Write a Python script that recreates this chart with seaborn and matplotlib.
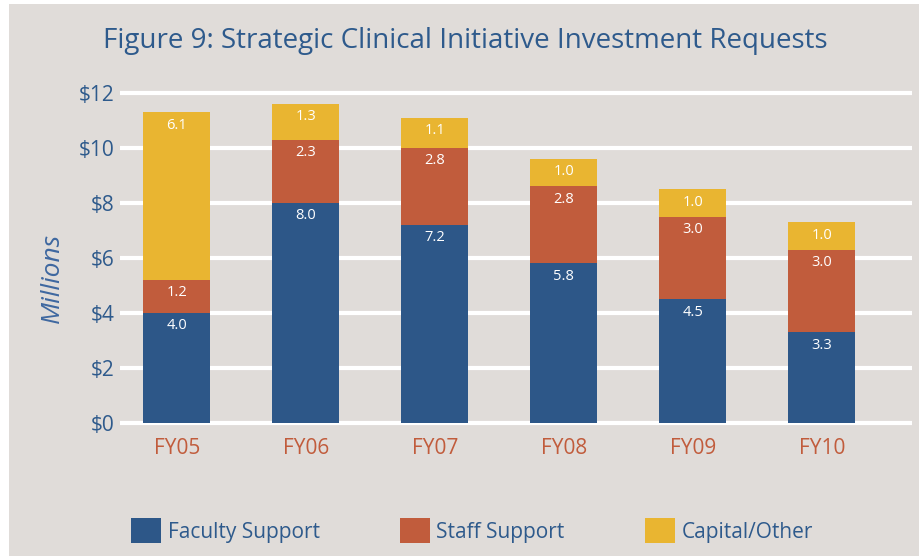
import numpy as np
import matplotlib
matplotlib.use("Agg")
import matplotlib.pyplot as plt
import matplotlib.patches as mpatches
import seaborn as sns

# Data (millions of dollars)
years = ["FY05", "FY06", "FY07", "FY08", "FY09", "FY10"]
faculty = [4.0, 8.0, 7.2, 5.8, 4.5, 3.3]
staff = [1.2, 2.3, 2.8, 2.8, 3.0, 3.0]
capital = [6.1, 1.3, 1.1, 1.0, 1.0, 1.0]
series_names = ["Faculty Support", "Staff Support", "Capital/Other"]
yticks = [0, 2, 4, 6, 8, 10, 12]

BLUE = "#2d5788"
RED = "#c15c3c"
YELLOW = "#e9b531"
BG = "#e0dcd9"
TXT = "#2e5a8c"

sns.set_style("white")
plt.rcParams["font.family"] = ["Open Sans", "DejaVu Sans"]

fig = plt.figure(figsize=(9.2, 5.58), dpi=100, facecolor="white")
# gray panel behind everything
fig.patches.append(mpatches.Rectangle((9 / 920, 0.003), 1, 1 - 4 / 558 - 0.003,
                                      transform=fig.transFigure, facecolor=BG,
                                      edgecolor="none", zorder=-10))
ax = fig.add_axes([0.1304, 0.2370, 0.8609, 0.6013])
ax.set_facecolor("none")

bottom = np.zeros(len(years))
for vals, col in zip([faculty, staff, capital], [BLUE, RED, YELLOW]):
    sns.barplot(x=years, y=vals, bottom=bottom, color=col, width=0.52,
                linewidth=0, saturation=1, ax=ax, zorder=3)
    for i, v in enumerate(vals):
        top = bottom[i] + v
        ax.text(i, top - 0.47, f"{v:.1f}", ha="center", va="center",
                color="white", fontsize=10.5, zorder=4)
    bottom = bottom + np.array(vals)

ax.set_ylim(-0.1, 12.1)
ax.set_xlim(-0.44, 5.70)
ax.set_yticks(yticks)
ax.set_yticklabels([f"${t}" for t in yticks], color=TXT, fontsize=15)
ax.tick_params(axis="y", length=0, pad=4)
ax.tick_params(axis="x", length=0, pad=9, labelsize=15, labelcolor=RED)
ax.grid(axis="y", color="white", linewidth=3, zorder=1)
ax.set_axisbelow(True)
for s in ax.spines.values():
    s.set_visible(False)
ax.set_xlabel("")
ax.set_ylabel("")

fig.text(52 / 920, 1 - 278 / 558, "Millions", rotation=90, ha="center", va="center",
         fontsize=19, style="italic", color="#3f68a0")

fig.text(0.506, 0.927, "Figure 9: Strategic Clinical Initiative Investment Requests",
         ha="center", va="center", fontsize=20, color=TXT)

handles = [mpatches.Patch(facecolor=c, edgecolor="none") for c in [BLUE, RED, YELLOW]]
leg = fig.legend(handles, series_names, loc="center", bbox_to_anchor=(0.513, 0.049),
                 ncol=3, frameon=False, fontsize=15, handlelength=1.45,
                 handleheight=1.45, handletextpad=0.3, columnspacing=3.85)
for t in leg.get_texts():
    t.set_color(TXT)

fig.savefig("out.png", dpi=100, facecolor="white")
